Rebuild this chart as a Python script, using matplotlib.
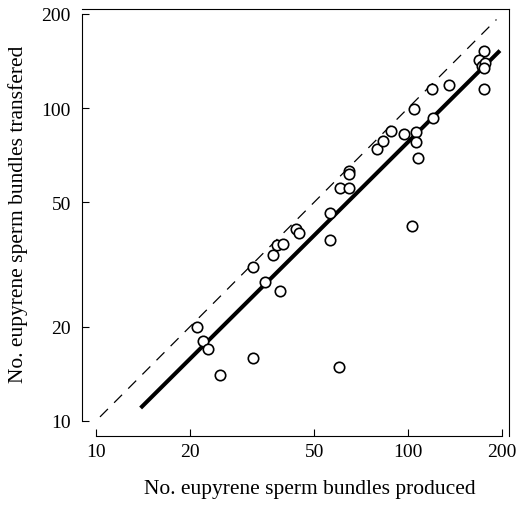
import numpy as np
import matplotlib
matplotlib.use('Agg')
import matplotlib.pyplot as plt

plt.rcParams['font.family'] = 'Liberation Serif'

# bundles produced (x) vs transfered (y)
produced = [21.0, 22.0, 22.9, 25.0, 31.9, 31.9, 34.8, 38.9, 36.8, 38.1,
            39.7, 43.7, 44.8, 56.2, 56.2, 60.0, 60.5, 64.8, 64.5, 64.5,
            79.7, 82.9, 88.2, 97.0, 102.7, 104.2, 106.3, 105.8, 107.8, 119.0,
            120.2, 135.3, 175.1, 168.8, 172.6, 176.4, 175.1, 175.1]
transfered = [20.0, 18.0, 17.0, 14.0, 15.9, 31.1, 27.9, 26.0, 33.9, 36.6,
              36.8, 41.1, 39.8, 46.1, 37.8, 14.9, 55.6, 55.5, 63.0, 61.7,
              74.2, 78.4, 84.7, 82.5, 41.9, 99.6, 83.7, 78.1, 69.4, 115.2,
              93.0, 118.3, 152.3, 142.6, 136.4, 139.4, 134.4, 115.2]

# fitted line end points and the 1:1 line
fit_x = [13.9, 197.0]
fit_y = [11.0, 152.7]
equal_x = [10.3, 192.0]

ticks = [10, 20, 50, 100, 200]

fig = plt.figure(figsize=(5.17, 5.06), dpi=100)
ax = fig.add_axes([0.1586, 0.1364, 0.8259, 0.8439])

ax.plot(equal_x, equal_x, color='black', lw=0.9, dashes=(9, 7))
ax.plot(fit_x, fit_y, color='black', lw=2.9, solid_capstyle='butt')
ax.plot(produced, transfered, 'o', mfc='white', mec='black', ms=7.5, mew=1.2)

ax.set_xscale('log')
ax.set_yscale('log')
ax.set_xlim(9.02, 210.6)
ax.set_ylim(8.95, 207.5)

ax.set_xticks(ticks)
ax.set_yticks(ticks)
ax.set_xticklabels([str(t) for t in ticks])
ax.set_yticklabels([str(t) for t in ticks])
ax.minorticks_off()
ax.tick_params(direction='in', length=5, width=0.8, labelsize=14, pad=5)
ax.tick_params(axis='y', pad=8)

for s in ax.spines.values():
    s.set_linewidth(0.8)
ax.spines['left'].set_bounds(10, 200)
ax.spines['bottom'].set_bounds(10, 200)

ax.set_xlabel('No. eupyrene sperm bundles produced', fontsize=15.5, va='center')
ax.xaxis.set_label_coords(0.534, -0.124)
ax.set_ylabel('No. eupyrene sperm bundles transfered', fontsize=15.5, va='center')
ax.yaxis.set_label_coords(-0.150, 0.522)

fig.savefig('out.png', dpi=100)
